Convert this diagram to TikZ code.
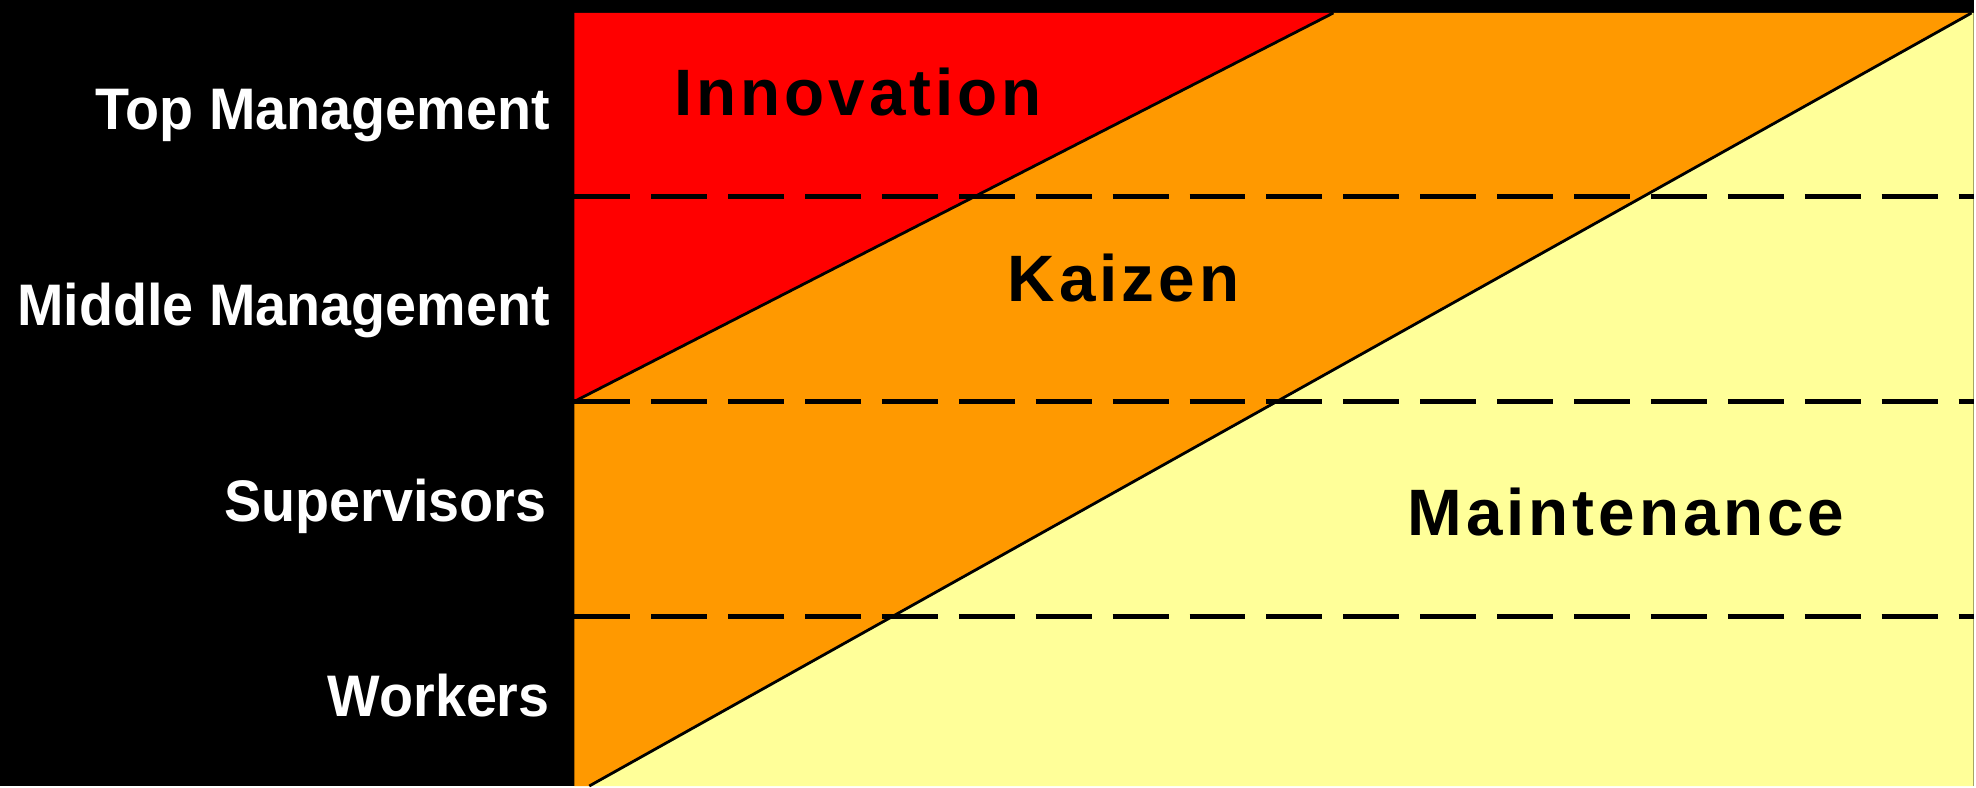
\documentclass[tikz,border=0pt]{standalone}
\usepackage{fontspec}
\setmainfont{Liberation Sans}
\newfontfamily\levelfont{Liberation Sans}[FakeStretch=0.95]
\newfontfamily\zonefont{Liberation Sans}[LetterSpace=6]

\definecolor{innovred}{RGB}{255,0,0}
\definecolor{kaizenorange}{RGB}{255,153,0}
\definecolor{maintyellow}{RGB}{255,255,153}

\begin{document}
\begin{tikzpicture}[
		level/.style={
			text=white, anchor=base east, inner sep=0pt,
			font=\levelfont\bfseries\fontsize{16.7}{20}\selectfont
		},
		zone/.style={
			text=black, anchor=base, inner sep=0pt,
			font=\zonefont\bfseries\fontsize{18.7}{22}\selectfont
		},
		divider/.style={black, line width=1.4pt, dash pattern=on 0.56cm off 0.21cm},
		border/.style={black, line width=0.8pt},
		]
		
		% background and chart corners
		\fill[black] (0,0) rectangle (19.76,7.87);
		\coordinate (tl) at (5.75,7.74);
		\coordinate (bl) at (5.75,0);
		\coordinate (br) at (19.76,0);
		\coordinate (tr) at (19.76,7.74);
		
		% boundary lines
		\coordinate (innovlow)  at (5.75,3.85);
		\coordinate (innovhigh) at (13.35,7.74);
		\coordinate (maintlow)  at (5.90,0);
		\coordinate (mainthigh) at (19.74,7.74);
		
		\fill[maintyellow] (maintlow) -- (br) -- (tr) -- (mainthigh) -- cycle;
		\fill[kaizenorange] (bl) -- (maintlow) -- (mainthigh) -- (innovhigh) -- (innovlow) -- cycle;
		\fill[innovred] (innovlow) -- (innovhigh) -- (tl) -- cycle;
		
		\draw[border] (innovlow) -- (innovhigh);
		\draw[border] (maintlow) -- (mainthigh);
		
		% level dividers
		\foreach \y/\name in {5.90/topmid, 3.85/midsup, 1.70/supwork} {
			\coordinate (\name-w) at (5.75,\y);
			\coordinate (\name-e) at (19.76,\y);
			\draw[divider] (\name-w) -- (\name-e);
		}
		
		\node[level] (top)    at (5.51, 6.57) {Top Management};
		\node[level] (middle) at (5.51, 4.61) {Middle Management};
		\node[level] (super)  at (5.48, 2.65) {Supervisors};
		\node[level] (work)   at (5.51, 0.70) {Workers};
		
		\node[zone] (innov)  at (8.59, 6.71) {Innovation};
		\node[zone] (kaizen) at (11.25, 4.85) {Kaizen};
		\node[zone] (maint)  at (16.28, 2.51) {Maintenance};
		
	\end{tikzpicture}
\end{document}
